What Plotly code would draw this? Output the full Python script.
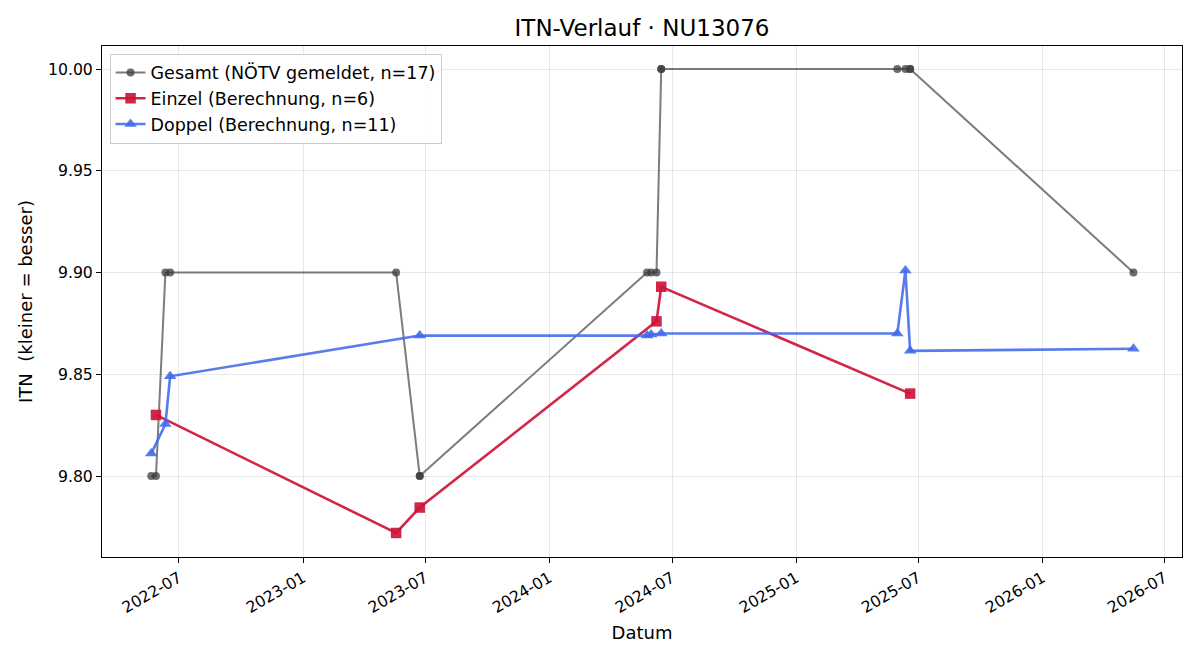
import plotly.graph_objects as go

# Gesamt (NÖTV gemeldet)
gesamt_dates = ["2022-05-21", "2022-05-28", "2022-06-11", "2022-06-18", "2023-05-19",
                "2023-06-23", "2023-06-23", "2024-05-25", "2024-05-31", "2024-06-08",
                "2024-06-15", "2024-06-15", "2025-05-31", "2025-06-12", "2025-06-19",
                "2025-06-19", "2026-05-16"]
gesamt_vals = [9.80, 9.80, 9.90, 9.90, 9.90,
               9.80, 9.80, 9.90, 9.90, 9.90,
               10.00, 10.00, 10.00, 10.00, 10.00,
               10.00, 9.90]

# Einzel (Berechnung)
einzel_dates = ["2022-05-28", "2023-05-19", "2023-06-23", "2024-06-08", "2024-06-15", "2025-06-19"]
einzel_vals = [9.830, 9.772, 9.7845, 9.876, 9.893, 9.8405]

# Doppel (Berechnung)
doppel_dates = ["2022-05-21", "2022-06-11", "2022-06-18", "2023-06-23", "2024-05-25",
                "2024-05-31", "2024-06-15", "2025-05-31", "2025-06-12", "2025-06-19",
                "2026-05-16"]
doppel_vals = [9.811, 9.8255, 9.849, 9.869, 9.869,
               9.8695, 9.870, 9.870, 9.901, 9.8615,
               9.8625]

x_ticks = ["2022-07-01", "2023-01-01", "2023-07-01", "2024-01-01", "2024-07-01",
           "2025-01-01", "2025-07-01", "2026-01-01", "2026-07-01"]
x_ticklabels = ["2022-07", "2023-01", "2023-07", "2024-01", "2024-07",
                "2025-01", "2025-07", "2026-01", "2026-07"]
y_ticks = [9.80, 9.85, 9.90, 9.95, 10.00]

FONT = "DejaVu Sans"

fig = go.Figure()
fig.add_trace(go.Scatter(
    x=gesamt_dates, y=gesamt_vals, mode="lines+markers",
    name="Gesamt (NÖTV gemeldet, n=17)", legendgroup="g",
    line=dict(color="rgba(80,80,80,0.75)", width=2),
    marker=dict(symbol="circle", size=8, color="rgba(60,60,60,0.75)"),
))
fig.add_trace(go.Scatter(
    x=einzel_dates, y=einzel_vals, mode="lines+markers",
    name="Einzel (Berechnung, n=6)", legendgroup="e",
    line=dict(color="rgba(205,20,55,0.92)", width=2.6),
    marker=dict(symbol="square", size=10.5, color="rgba(205,20,55,0.92)"),
))
fig.add_trace(go.Scatter(
    x=doppel_dates, y=doppel_vals, mode="lines+markers",
    name="Doppel (Berechnung, n=11)", legendgroup="d",
    line=dict(color="rgba(65,105,235,0.88)", width=2.6),
    marker=dict(symbol="triangle-up", size=11, color="rgba(65,105,235,0.88)"),
))

fig.update_layout(
    width=1200, height=660,
    margin=dict(l=102, r=18, t=46, b=103),
    paper_bgcolor="white", plot_bgcolor="white",
    font=dict(family=FONT, size=16, color="black"),
    title=dict(text="ITN-Verlauf · NU13076", x=0.5, xref="paper", xanchor="center",
               y=0.958, yanchor="middle", font=dict(family=FONT, size=23)),
    legend=dict(x=0.007, y=0.985, xanchor="left", yanchor="top",
                bgcolor="rgba(255,255,255,0.85)", bordercolor="#cccccc", borderwidth=1,
                font=dict(family=FONT, size=17.5), tracegroupgap=0),
    showlegend=True,
)
fig.update_xaxes(
    type="date", range=["2022-03-09", "2026-07-27"],
    tickmode="array", tickvals=x_ticks, ticktext=x_ticklabels, tickangle=-30,
    ticks="outside", ticklen=5, tickcolor="black", tickfont=dict(size=15.7),
    showgrid=True, gridcolor="rgba(176,176,176,0.3)", gridwidth=1,
    showline=True, linecolor="black", linewidth=1, mirror=True,
    zeroline=False,
    title=dict(text="Datum", font=dict(size=18), standoff=10),
)
fig.update_yaxes(
    range=[9.7602, 10.0113],
    tickmode="array", tickvals=y_ticks, tickformat=".2f",
    ticks="outside", ticklen=5, tickcolor="black", tickfont=dict(size=15.7),
    showgrid=True, gridcolor="rgba(176,176,176,0.3)", gridwidth=1,
    showline=True, linecolor="black", linewidth=1, mirror=True,
    zeroline=False,
    title=dict(text="ITN  (kleiner = besser)", font=dict(size=18), standoff=10),
)

fig.write_html("out.html")
